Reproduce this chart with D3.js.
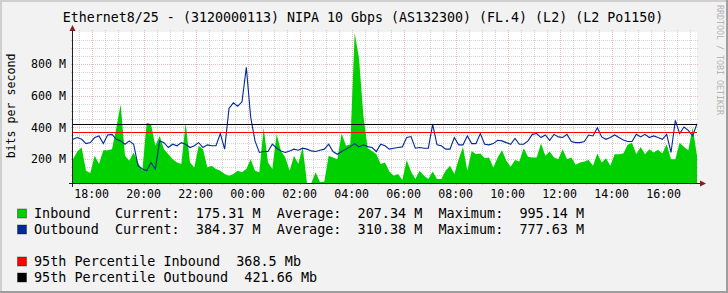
<!DOCTYPE html>
<html><head><meta charset="utf-8">
<script src="https://cdn.jsdelivr.net/npm/d3@7"></script>
<style>
html,body{margin:0;padding:0;background:#f2f2f2;}
svg{display:block;}
text{font-family:"DejaVu Sans Mono",monospace;}
</style></head><body>
<svg id="c" width="728" height="293"></svg>
<script>
// ---------- data ----------
const title = "Ethernet8/25 - (3120000113) NIPA 10 Gbps (AS132300) (FL.4) (L2) (L2 Po1150)";
const yAxisLabel = "bits per second";
const watermark = "RRDTOOL / TOBI OETIKER";
const startTime = Date.UTC(2024, 0, 1, 17, 17);
const stepMinutes = 10;
// Mbit/s, one value per 10 minutes
const inbound = [200,248,273,127,113,221,169,256,256,263,398,544,221,190,242,179,127,429,419,284,
  346,263,231,200,179,169,429,179,148,284,263,148,159,138,127,106,96,106,127,117,
  138,200,127,117,398,179,138,356,252,211,127,221,169,277,45,48,117,55,60,221,
  211,200,361,284,294,995,835,477,269,252,231,169,179,123,96,106,69,194,123,75,
  127,96,75,123,75,75,127,159,106,200,277,127,252,231,236,206,211,148,211,256,
  190,152,194,186,269,215,211,211,298,221,248,211,200,263,200,211,165,179,186,194,
  159,236,179,206,159,231,231,236,290,304,231,277,231,263,242,259,236,294,200,200,
  304,277,256,398,221];
const outbound = [325,336,325,298,304,336,346,298,352,356,325,315,294,315,294,159,138,127,179,138,
  315,304,273,294,284,304,294,273,284,304,273,290,284,284,361,263,519,554,533,561,
  778,465,315,242,248,248,294,269,252,242,252,263,256,269,263,252,248,256,263,294,
  248,231,248,263,279,298,277,290,279,273,248,294,284,263,269,273,277,336,342,269,
  273,269,269,419,290,284,263,263,336,290,290,346,298,298,361,294,290,298,319,315,
  304,294,331,294,294,315,356,361,336,352,319,356,340,336,356,311,304,304,311,352,
  346,398,340,325,336,352,336,321,311,311,356,340,356,336,346,336,325,356,242,444,
  361,402,381,346,423];
const yTicks = [200, 400, 600, 800];
const yMinorStep = 50;
const yDomain = [50, 1000];
const seriesNames = ["Inbound", "Outbound"];
const seriesColors = ["#00CF00", "#002A97"];
const currentVals = ["175.31 M", "384.37 M"];
const averageVals = ["207.34 M", "310.38 M"];
const maximumVals = ["995.14 M", "777.63 M"];
const pctNames = ["95th Percentile Inbound", "95th Percentile Outbound"];
const pctValues = [368.5, 421.66];
const pctLabels = ["368.5 Mb", "421.66 Mb"];
const pctColors = ["#FF0000", "#000000"];

// ---------- drawing ----------
const W = 728, H = 293;
const svg = d3.select("#c");
const L = 73, R = 697, T = 32, B = 183;

const times = inbound.map((_, i) => new Date(startTime + i * stepMinutes * 60000));
const x = d3.scaleUtc().domain([times[0], times[times.length - 1]]).range([L, R]);
const y = d3.scaleLinear().domain(yDomain).range([B, T]).clamp(true);

svg.append("rect").attr("width", W).attr("height", H).attr("fill", "#f2f2f2");
// 3D shade border
svg.append("rect").attr("x", 0).attr("y", 0).attr("width", W).attr("height", 2).attr("fill", "#cfcfcf");
svg.append("rect").attr("x", 0).attr("y", 0).attr("width", 2).attr("height", H).attr("fill", "#cfcfcf");
svg.append("rect").attr("x", 0).attr("y", H - 2).attr("width", W).attr("height", 2).attr("fill", "#9e9e9e");
svg.append("rect").attr("x", W - 2).attr("y", 0).attr("width", 2).attr("height", H).attr("fill", "#9e9e9e");

// canvas
svg.append("rect").attr("x", L).attr("y", T).attr("width", R - L).attr("height", B - T).attr("fill", "#ffffff");

// grid
const grid = svg.append("g");
const minorCol = "rgba(143,143,143,0.38)", majorCol = "rgba(222,79,79,0.38)";
const yMinor = d3.range(yDomain[0] + yMinorStep, yDomain[1], yMinorStep).filter(v => !yTicks.includes(v));
yMinor.forEach(v => {
  const yy = Math.round(y(v)) + 0.5;
  grid.append("line").attr("x1", L - 2).attr("x2", R + 2).attr("y1", yy).attr("y2", yy)
    .attr("stroke", minorCol).attr("stroke-dasharray", "1,1");
});
const xMinor = d3.utcMinute.every(30).range(times[0], times[times.length - 1]);
const xMajor = d3.utcHour.every(2).range(times[0], times[times.length - 1]);
xMinor.filter(t => t.getUTCMinutes() !== 0 || t.getUTCHours() % 2 !== 0).forEach(t => {
  const xx = Math.round(x(t)) + 0.5;
  grid.append("line").attr("x1", xx).attr("x2", xx).attr("y1", T - 2).attr("y2", B + 2)
    .attr("stroke", minorCol).attr("stroke-dasharray", "1,1");
});
yTicks.forEach(v => {
  const yy = Math.round(y(v)) + 0.5;
  grid.append("line").attr("x1", L - 2).attr("x2", R + 2).attr("y1", yy).attr("y2", yy)
    .attr("stroke", majorCol).attr("stroke-dasharray", "1,1");
});
xMajor.forEach(t => {
  const xx = Math.round(x(t)) + 0.5;
  grid.append("line").attr("x1", xx).attr("x2", xx).attr("y1", T - 2).attr("y2", B + 2)
    .attr("stroke", majorCol).attr("stroke-dasharray", "1,1");
});

// inbound area
const area = d3.area().x((d, i) => x(times[i])).y0(B).y1(d => y(d));
svg.append("path").datum(inbound).attr("d", area).attr("fill", seriesColors[0]);
// outbound line
const line = d3.line().x((d, i) => x(times[i])).y(d => y(d));
svg.append("path").datum(outbound).attr("d", line).attr("fill", "none")
  .attr("stroke", seriesColors[1]).attr("stroke-width", 1.1);

// percentile rules
pctValues.forEach((v, i) => {
  const yy = Math.round(y(v)) + 0.5;
  svg.append("line").attr("x1", L).attr("x2", R).attr("y1", yy).attr("y2", yy)
    .attr("stroke", pctColors[i]).attr("stroke-width", 1);
});

// axes
svg.append("line").attr("x1", L - 4).attr("x2", R + 3).attr("y1", B + 0.5).attr("y2", B + 0.5).attr("stroke", "#1f1f1f");
svg.append("line").attr("x1", L - 0.5).attr("x2", L - 0.5).attr("y1", B + 4).attr("y2", T - 1).attr("stroke", "#1f1f1f");
svg.append("path").attr("d", `M${L - 3.5},${T - 1} L${L + 2.5},${T - 1} L${L - 0.5},${T - 7} Z`).attr("fill", "#801f1f");
svg.append("path").attr("d", `M${R + 3},${B - 2.5} L${R + 3},${B + 3.5} L${R + 9},${B + 0.5} Z`).attr("fill", "#801f1f");

// axis labels
const fmt = d3.utcFormat("%H:%M");
svg.append("g").selectAll("text").data(xMajor).join("text")
  .attr("x", d => x(d)).attr("y", 197.5).attr("text-anchor", "middle")
  .attr("font-size", "11.6px").attr("fill", "#000").text(d => fmt(d));
svg.append("g").selectAll("text").data(yTicks).join("text")
  .attr("x", 66).attr("y", d => y(d) + 4.2).attr("text-anchor", "end")
  .attr("font-size", "11.6px").attr("fill", "#000").text(d => d + " M");
svg.append("text").attr("transform", "translate(15,106) rotate(-90)").attr("text-anchor", "middle")
  .attr("font-size", "11.6px").attr("fill", "#000").text(yAxisLabel);

// title
svg.append("text").attr("x", 363).attr("y", 21.5).attr("text-anchor", "middle")
  .attr("font-size", "13.3px").attr("fill", "#000").text(title);

// watermark
svg.append("text").attr("transform", "translate(717,5) rotate(90)")
  .attr("font-size", "8.3px").attr("fill", "#b4b4b4").text(watermark);

// legend
const pad = (s, n) => s + " ".repeat(Math.max(0, n - s.length));
const legendY = [213.5, 229.5, 261.5, 277.5];
const legendItems = [
  {c: seriesColors[0], t: pad(seriesNames[0], 10) + "Current:  " + pad(currentVals[0], 10) + "Average:  " + pad(averageVals[0], 10) + "Maximum:  " + maximumVals[0]},
  {c: seriesColors[1], t: pad(seriesNames[1], 10) + "Current:  " + pad(currentVals[1], 10) + "Average:  " + pad(averageVals[1], 10) + "Maximum:  " + maximumVals[1]},
  {c: pctColors[0], t: pctNames[0] + "  " + pctLabels[0]},
  {c: pctColors[1], t: pctNames[1] + "  " + pctLabels[1]}
];
const lg = svg.append("g");
legendItems.forEach((d, i) => {
  lg.append("rect").attr("x", 17.5).attr("y", legendY[i] - 4.5).attr("width", 9).attr("height", 9)
    .attr("fill", d.c).attr("stroke", "rgba(0,0,0,0.35)").attr("stroke-width", 1);
  lg.append("text").attr("x", 34).attr("y", legendY[i] + 4.5).attr("font-size", "13.45px")
    .attr("fill", "#000").style("white-space", "pre").text(d.t);
});
</script>
</body></html>
